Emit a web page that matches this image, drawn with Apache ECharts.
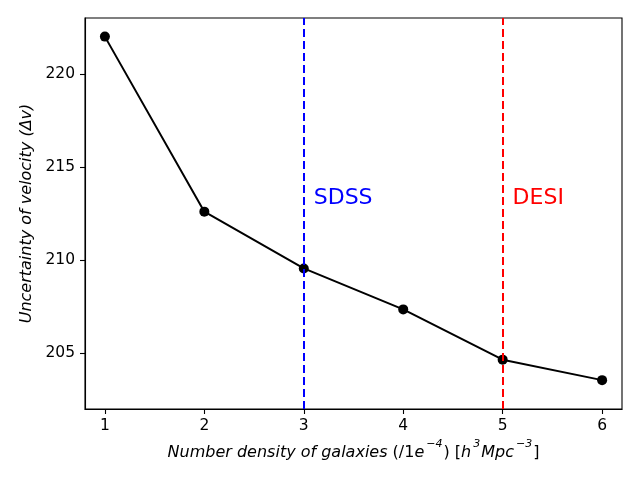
<!DOCTYPE html>
<html>
<head>
<meta charset="utf-8">
<script src="https://cdn.jsdelivr.net/npm/echarts@6/dist/echarts.min.js"></script>
<style>
  html, body { margin: 0; padding: 0; background: #fff; }
  #chart { width: 640px; height: 480px; }
</style>
</head>
<body>
<div id="chart"></div>
<script>
// number density (1e-4 h^3 Mpc^-3) vs uncertainty of velocity
const densities = [1, 2, 3, 4, 5, 6];
const uncertainty = [222.0, 212.6, 209.55, 207.35, 204.65, 203.55];
const surveyNames = ["SDSS", "DESI"];
const surveyDensity = [3, 5];
const surveyColors = ["#0000ff", "#ff0000"];
const labelX = [3.1, 5.1];
const labelY = 213.3;
const xTicks = [1, 2, 3, 4, 5, 6];
const yTicks = [205, 210, 215, 220];

const chart = echarts.init(document.getElementById("chart"), null, { renderer: "canvas" });

const font = "DejaVu Sans";

const option = {
  animation: false,
  backgroundColor: "#fff",
  textStyle: { fontFamily: font, color: "#000" },
  grid: {
    left: 85, right: 18, top: 18, bottom: 71,
    show: true, borderColor: "#000", borderWidth: 1.1, backgroundColor: "transparent"
  },
  xAxis: {
    type: "value",
    min: 0.8,
    max: 6.2,
    splitLine: { show: false },
    axisLine: { show: true, lineStyle: { color: "#000", width: 1.1 } },
    axisTick: { show: true, inside: false, length: 5, customValues: xTicks, lineStyle: { color: "#000", width: 1.1 } },
    axisLabel: {
      margin: 9, fontSize: 15.5, color: "#000", fontFamily: font,
      customValues: xTicks
    },
    name: "{i|Number density of galaxies }{n|(/1}{i|e}{s|−4}{n|) [}{i|h}{s|3}{i|Mpc}{s|−3}{n|]}",
    nameLocation: "middle",
    nameGap: 27,
    nameTextStyle: {
      fontFamily: font, fontSize: 16, color: "#000",
      rich: {
        i: { fontStyle: "italic", fontSize: 16, fontFamily: font, lineHeight: 22, verticalAlign: "bottom" },
        n: { fontSize: 16, fontFamily: font, lineHeight: 22, verticalAlign: "bottom" },
        s: { fontStyle: "italic", fontSize: 11, fontFamily: font, lineHeight: 12, verticalAlign: "top", padding: [0, 1, 0, 2] }
      }
    }
  },
  yAxis: {
    type: "value",
    min: 202,
    max: 223,
    splitLine: { show: false },
    axisLine: { show: true, lineStyle: { color: "#000", width: 1.1 } },
    axisTick: { show: true, inside: false, length: 5, customValues: yTicks, lineStyle: { color: "#000", width: 1.1 } },
    axisLabel: {
      margin: 10, fontSize: 15.5, color: "#000", fontFamily: font,
      customValues: yTicks
    },
    name: "Uncertainty of velocity (Δv)",
    nameLocation: "middle",
    nameRotate: 90,
    nameGap: 49,
    nameTextStyle: { fontFamily: font, fontSize: 16, fontStyle: "italic", color: "#000" }
  },
  series: [
    {
      type: "line",
      data: densities.map((d, i) => [d, uncertainty[i]]),
      symbol: "circle",
      symbolSize: 10,
      itemStyle: { color: "#000" },
      lineStyle: { color: "#000", width: 2 },
      z: 3,
      markLine: {
        silent: true,
        symbol: ["none", "none"],
        label: { show: false },
        data: surveyDensity.map((d, i) => ({
          xAxis: d,
          lineStyle: { color: surveyColors[i], width: 2, type: [8, 4] }
        }))
      },
      markPoint: {
        silent: true,
        symbol: "circle",
        symbolSize: 0,
        data: surveyNames.map((n, i) => ({
          coord: [labelX[i], labelY],
          label: {
            show: true,
            formatter: n,
            position: "inside",
            align: "left",
            verticalAlign: "middle",
            fontSize: 22,
            fontFamily: font,
            color: surveyColors[i]
          }
        }))
      }
    }
  ]
};

chart.setOption(option);
</script>
</body>
</html>
